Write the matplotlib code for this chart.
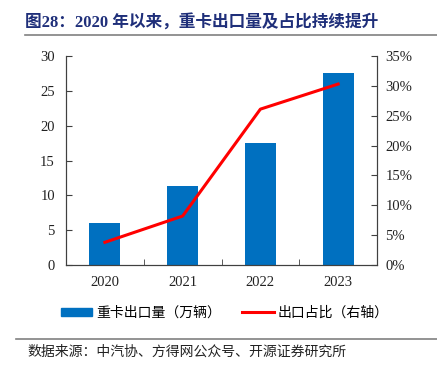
import numpy as np
import matplotlib.pyplot as plt
from matplotlib.lines import Line2D
from matplotlib.patches import Rectangle

years = ["2020", "2021", "2022", "2023"]
export_vol = [6.1, 11.4, 17.45, 27.5]       # 万辆
export_share = [3.8, 8.2, 26.1, 30.3]       # %

cjk = ['Noto Sans CJK SC', 'DejaVu Sans']
serif = ['Liberation Serif', 'Noto Sans CJK SC']
plt.rcParams['font.family'] = cjk

fig = plt.figure(figsize=(4.37, 3.71), dpi=100)
ax = fig.add_axes([66/437, 1 - 265/371, (377-66)/437, (265-56)/371])
ax2 = ax.twinx()

x = np.arange(len(years))
ax.bar(x, export_vol, width=0.4, color='#0070C0', zorder=2)
ax2.plot(x, export_share, color='#FF0000', lw=2.2, zorder=3)

ax.set_xlim(-0.5, 3.5)
ax.set_ylim(0, 30)
ax.set_yticks(range(0, 31, 5))
ax2.set_ylim(0, 35)
ax2.set_yticks(range(0, 36, 5))
ax2.set_yticklabels(["%d%%" % v for v in range(0, 36, 5)])

ax.set_xticks(x)
ax.set_xticklabels(years)
ax.set_xticks(np.arange(-0.5, 4, 1), minor=True)
ax.tick_params(axis='x', which='major', length=0, pad=8)
ax.tick_params(axis='x', which='minor', direction='in', length=4, color='#404040')
ax.tick_params(axis='y', direction='in', length=4, color='#404040', pad=8)
ax2.tick_params(axis='y', direction='in', length=4, color='#404040', pad=6)

for a in (ax, ax2):
    a.spines['top'].set_visible(False)
    for s in ('left', 'right', 'bottom'):
        a.spines[s].set_color('#404040')
    for lbl in a.get_xticklabels() + a.get_yticklabels():
        lbl.set_family(serif)
        lbl.set_fontsize(10.5)
        lbl.set_color('#222222')

# legend
handles = [Rectangle((0, 0), 1, 1, color='#0070C0'),
           Line2D([0], [0], color='#FF0000', lw=2.2)]
fig.legend(handles, ["重卡出口量（万辆）", "出口占比（右轴）"], loc='center',
           bbox_to_anchor=(225/437, 1 - 313/371), ncol=2, frameon=False,
           fontsize=10, handlelength=2.25, handleheight=0.55, columnspacing=1.5,
           handletextpad=0.3, borderpad=0)

# title and rules
fig.text(25/437, 1 - 22/371, "图28：2020 年以来，重卡出口量及占比持续提升",
         fontsize=12, fontweight='bold', color='#1F2F7A', va='center', family=serif)
fig.add_artist(Line2D([25/437, 1], [1 - 35/371] * 2, color='#808080', lw=1.2))
fig.add_artist(Line2D([16/437, 1], [1 - 339/371] * 2, color='#808080', lw=1.2))
fig.text(27/437, 1 - 352/371, "数据来源：中汽协、方得网公众号、开源证券研究所",
         fontsize=10, color='#222222', va='center')

fig.savefig("out.png", dpi=100)
